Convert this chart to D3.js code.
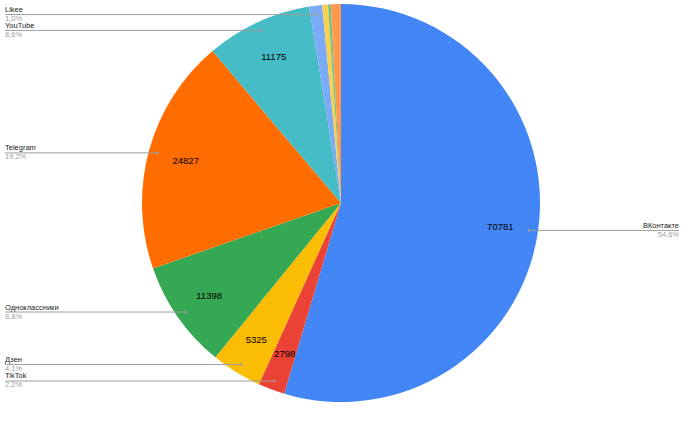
<!DOCTYPE html>
<html>
<head>
<meta charset="utf-8">
<script src="https://cdn.jsdelivr.net/npm/d3@7"></script>
<style>
  body { margin: 0; background: #fff; }
  svg { font-family: "Liberation Sans", Arial, sans-serif; }
</style>
</head>
<body>
<div id="chart"></div>
<script>
(function() {
  // data, clockwise from 12 o'clock
  var names = ['ВКонтакте', 'TikTok', 'Дзен', 'Одноклассники', 'Telegram', 'YouTube', 'Likee', 'Прочие 1', 'Прочие 2', 'Прочие 3']
  var values = [70781, 2798, 5325, 11398, 24827, 11175, 1350, 610, 285, 1065]
  var colors = ['#4285f4', '#ea4335', '#fbbc04', '#34a853', '#ff6d01', '#46bdc6', '#7baaf7', '#fcd04f', '#71c287', '#ff994d']

  var width = 700
  var height = 424
  var cx = 341, cy = 203, radius = 199

  var svg = d3.select('#chart')
    .append('svg')
    .attr('width', width)
    .attr('height', height)

  var g = svg.append('g')
    .attr('transform', `translate(${cx},${cy})`)

  var data = names.map((n, i) => ({ name: n, value: values[i], color: colors[i] }))
  var total = d3.sum(values)

  var pie = d3.pie().sort(null).value(d => d.value)
  var arcs = pie(data)

  var arc = d3.arc().innerRadius(0).outerRadius(radius)
  var labelArc = d3.arc().innerRadius(161).outerRadius(161)
  var dotArc = d3.arc().innerRadius(190).outerRadius(190)

  g.selectAll('path.slice')
    .data(arcs)
    .enter()
    .append('path')
    .attr('class', 'slice')
    .attr('d', arc)
    .attr('fill', d => d.data.color)

  var fmtPct = v => (v * 100).toFixed(1).replace('.', ',') + '%'

  // numbers inside the slices
  g.selectAll('text.value')
    .data(arcs.filter(d => d.data.value / total > 0.02))
    .enter()
    .append('text')
    .attr('class', 'value')
    .attr('transform', d => `translate(${labelArc.centroid(d)})`)
    .attr('text-anchor', 'middle')
    .attr('dy', '0.35em')
    .attr('font-size', 9.5)
    .attr('fill', '#000')
    .text(d => d.data.value)

  // side labels with leader lines
  var labelled = arcs.filter(d => +(d.data.value / total * 100).toFixed(1) >= 1.0)

  labelled.forEach(d => {
    var p = dotArc.centroid(d)
    var x = cx + p[0], y = cy + p[1]
    var right = x > cx
    var x0 = right ? 679 : 5

    svg.append('line')
      .attr('x1', x0).attr('x2', x)
      .attr('y1', y).attr('y2', y)
      .attr('stroke', '#9e9e9e')
      .attr('stroke-width', 1)

    svg.append('circle')
      .attr('cx', x).attr('cy', y)
      .attr('r', 1.3)
      .attr('fill', '#9e9e9e')

    svg.append('text')
      .attr('x', x0).attr('y', y - 2.5)
      .attr('text-anchor', right ? 'end' : 'start')
      .attr('font-size', 7.5)
      .attr('fill', '#222')
      .text(d.data.name)

    svg.append('text')
      .attr('x', x0).attr('y', y + 6.5)
      .attr('text-anchor', right ? 'end' : 'start')
      .attr('font-size', 7.5)
      .attr('fill', '#9e9e9e')
      .text(fmtPct(d.data.value / total))
  })
})()
</script>
</body>
</html>
